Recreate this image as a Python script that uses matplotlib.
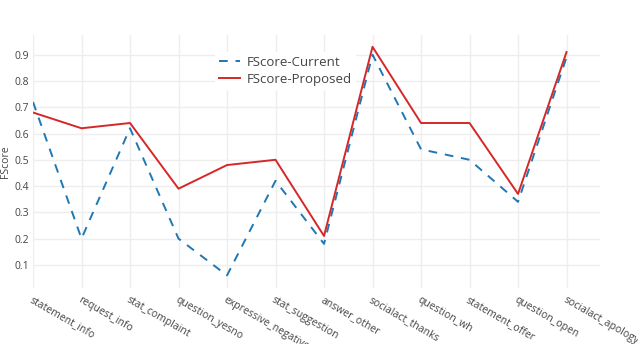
import matplotlib.pyplot as plt

categories = ['statement_info', 'request_info', 'stat_complaint', 'question_yesno',
              'expressive_negative', 'stat_suggestion', 'answer_other', 'socialact_thanks',
              'question_wh', 'statement_offer', 'question_open', 'socialact_apology']
fscore_current = [0.72, 0.20, 0.62, 0.20, 0.06, 0.42, 0.18, 0.90, 0.54, 0.50, 0.34, 0.89]
fscore_proposed = [0.68, 0.62, 0.64, 0.39, 0.48, 0.50, 0.21, 0.93, 0.64, 0.64, 0.37, 0.91]
y_ticks = [0.1, 0.2, 0.3, 0.4, 0.5, 0.6, 0.7, 0.8, 0.9]

plt.rcParams['font.family'] = ['Open Sans', 'DejaVu Sans']

fig = plt.figure(figsize=(6.38, 3.44), dpi=100)
ax = fig.add_axes([33 / 638, 1 - 288 / 344, (600 - 33) / 638, (288 - 35) / 344])

x = list(range(len(categories)))
ax.plot(x, fscore_current, color='#1f77b4', linewidth=1.4, linestyle=(0, (4.5, 4)),
        label='FScore-Current')
ax.plot(x, fscore_proposed, color='#d62728', linewidth=1.4, label='FScore-Proposed')

ax.set_xlim(0, 11.69)
ax.set_ylim(0.012, 0.975)
ax.set_xticks(x)
ax.set_xticklabels(categories, rotation=-30, ha='left', va='top', rotation_mode='anchor',
                   fontsize=7.5, color='#444444')
ax.set_yticks(y_ticks)
ax.set_yticklabels([f'{v:.1f}' for v in y_ticks], fontsize=7.5, color='#444444')
ax.tick_params(length=0, pad=3)
ax.tick_params(axis='x', pad=5)
ax.grid(True, color='#eeeeee', linewidth=1)
ax.set_axisbelow(True)
for s in ax.spines.values():
    s.set_visible(False)
ax.set_ylabel('FScore', fontsize=7.5, color='#444444')
ax.yaxis.set_label_coords(-22 / 567, 0.5)

leg = ax.legend(loc='upper left', bbox_to_anchor=(0.31, 0.96), frameon=True, fontsize=9.5,
                handlelength=1.6, handletextpad=0.5, borderpad=0.3, labelspacing=0.3)
leg.get_frame().set_edgecolor('none')
leg.get_frame().set_facecolor('white')
leg.get_frame().set_alpha(1)
for t in leg.get_texts():
    t.set_color('#444444')

fig.savefig('out.png', dpi=100)
